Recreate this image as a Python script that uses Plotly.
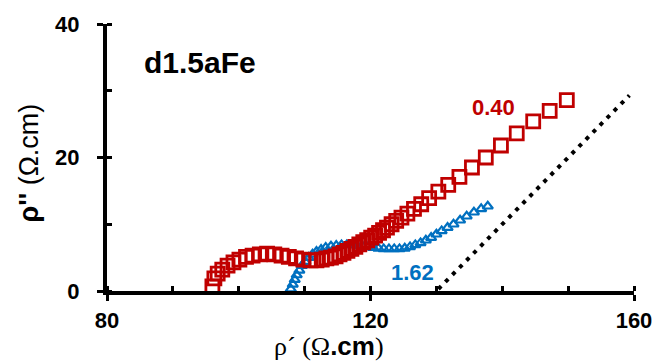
import plotly.graph_objects as go

# Red series (open squares) - sample "0.40"
red_x = [96.0, 96.3, 96.8, 97.5, 98.3, 99.2, 100.1, 101.1, 102.1, 103.2, 104.3, 105.4, 106.5,
         107.6, 108.7, 109.8, 110.9, 111.8, 112.6, 113.3, 114.0, 114.7, 115.3, 115.9, 116.5,
         117.1, 117.7, 118.3, 118.9, 119.5, 120.1, 120.7, 121.3, 121.9, 122.5, 123.2, 123.9,
         124.7, 125.6, 126.6, 127.7, 128.9, 130.3, 131.8, 133.5, 135.4, 137.5, 139.8, 142.2,
         144.7, 147.2, 149.8]
red_y = [0.7, 1.9, 2.6, 3.2, 3.8, 4.3, 4.7, 5.1, 5.3, 5.5, 5.6, 5.5, 5.3,
         5.1, 4.9, 4.7, 4.6, 4.6, 4.7, 4.9, 5.0, 5.2, 5.5, 5.7, 6.0,
         6.3, 6.6, 7.0, 7.3, 7.6, 8.0, 8.3, 8.7, 9.1, 9.5, 10.0, 10.5,
         11.0, 11.6, 12.3, 13.0, 13.9, 14.9, 15.9, 17.1, 18.5, 20.0, 21.8, 23.6,
         25.4, 27.0, 28.6]

# Blue series (open triangles) - sample "1.62"
blue_x = [107.9, 108.2, 108.5, 108.8, 109.2, 109.6, 110.1, 110.6, 111.2, 111.8, 112.5, 113.2,
          114.0, 114.8, 115.6, 116.4, 117.2, 118.0, 118.8, 119.6, 120.4, 121.2, 122.0, 122.8,
          123.6, 124.4, 125.2, 126.0, 126.8, 127.6, 128.4, 129.2, 130.0, 130.8, 131.7, 132.6,
          133.6, 134.6, 135.7, 136.8, 137.8]
blue_y = [0.3, 1.0, 1.7, 2.4, 3.1, 3.8, 4.4, 5.0, 5.5, 5.9, 6.2, 6.5,
          6.7, 6.8, 6.9, 6.9, 6.9, 6.8, 6.7, 6.6, 6.5, 6.4, 6.3, 6.3,
          6.3, 6.3, 6.4, 6.6, 6.9, 7.2, 7.6, 8.0, 8.5, 9.0, 9.5, 10.0,
          10.6, 11.2, 11.8, 12.3, 12.7]

# Dotted reference line (45 degrees)
ref_x = [130.3, 159.3]
ref_y = [0.3, 29.3]

x_ticks = [80, 120, 160]
y_ticks = [0, 20, 40]

RED = "#C00000"
BLUE = "#0070C0"
FONT = "Liberation Sans, Arial, sans-serif"
SERIF = "Liberation Serif, Times New Roman, serif"

fig = go.Figure()
fig.add_trace(go.Scatter(x=ref_x, y=ref_y, mode="lines",
                         line=dict(color="black", width=4, dash="4px,6px"),
                         showlegend=False, hoverinfo="skip"))
fig.add_trace(go.Scatter(x=blue_x, y=blue_y, mode="markers",
                         marker=dict(symbol="triangle-up-open", size=9, color=BLUE,
                                     line=dict(width=2.2, color=BLUE)),
                         showlegend=False))
fig.add_trace(go.Scatter(x=red_x, y=red_y, mode="markers",
                         marker=dict(symbol="square-open", size=13, color=RED,
                                     line=dict(width=2.8, color=RED)),
                         showlegend=False))
# invisible trace carrying the overlay axes (inner halves of the crossing major ticks)
fig.add_trace(go.Scatter(x=ref_x, y=ref_y, mode="lines", line=dict(width=0),
                         xaxis="x2", yaxis="y2", showlegend=False, hoverinfo="skip"))

fig.add_annotation(x=85.3, y=34.2, xanchor="left", yanchor="middle", showarrow=False,
                   text="<b>d1.5aFe</b>", font=dict(family=FONT, size=30, color="black"))
fig.add_annotation(x=138.6, y=27.5, showarrow=False, text="<b>0.40</b>",
                   font=dict(family=FONT, size=22, color=RED))
fig.add_annotation(x=126.4, y=2.8, showarrow=False, text="<b>1.62</b>",
                   font=dict(family=FONT, size=22, color=BLUE))

# axis titles
fig.add_annotation(xref="paper", yref="paper", x=0.421, y=-0.205, showarrow=False,
                   xanchor="center", yanchor="middle",
                   text=(f"<span style='font-family:{SERIF}'>ρ´ (Ω</span>"
                         f"<b>.cm</b><span style='font-family:{SERIF}'>)</span>"),
                   font=dict(family=FONT, size=26, color="black"))
fig.add_annotation(xref="paper", yref="paper", x=-0.148, y=0.478, showarrow=False,
                   xanchor="center", yanchor="middle", textangle=-90,
                   text="<b>ρ''</b>\u00a0(Ω.cm)",
                   font=dict(family=FONT, size=27, color="black"))

fig.update_layout(
    width=664, height=363,
    margin=dict(l=107, r=24, t=21, b=72),
    paper_bgcolor="white", plot_bgcolor="white",
    font=dict(family=FONT, size=22, color="black"),
    xaxis2=dict(overlaying="x", anchor="y", range=[80, 160], tickvals=x_ticks,
                showticklabels=False, showgrid=False, zeroline=False, showline=False,
                ticks="inside", ticklen=5, tickwidth=3, tickcolor="black", side="bottom"),
    yaxis2=dict(overlaying="y", anchor="x", range=[0, 40], tickvals=y_ticks,
                showticklabels=False, showgrid=False, zeroline=False, showline=False,
                ticks="inside", ticklen=5, tickwidth=3, tickcolor="black", side="left"),
)
fig.layout.xaxis.update(range=[80, 160], tickvals=x_ticks, ticktext=[f"<b>{v}</b>" for v in x_ticks],
                        showgrid=False, zeroline=False, showline=True, linecolor="black", linewidth=4,
                        ticks="outside", ticklen=6, tickwidth=3, tickcolor="black",
                        minor=dict(dtick=10, ticks="inside", ticklen=5, tickwidth=2.5, tickcolor="black"),
                        tickfont=dict(family=FONT, size=22), ticklabelstandoff=1)
fig.layout.yaxis.update(range=[0, 40], tickvals=y_ticks, ticktext=[f"<b>{v}</b>" for v in y_ticks],
                        showgrid=False, zeroline=False, showline=True, linecolor="black", linewidth=4,
                        ticks="outside", ticklen=6, tickwidth=3, tickcolor="black",
                        minor=dict(dtick=10, ticks="inside", ticklen=5, tickwidth=2.5, tickcolor="black"),
                        tickfont=dict(family=FONT, size=22), ticklabelstandoff=13)

fig.write_html("out.html", config={"displayModeBar": False},
               post_script="document.body.style.margin='0';document.body.style.overflow='hidden';")
